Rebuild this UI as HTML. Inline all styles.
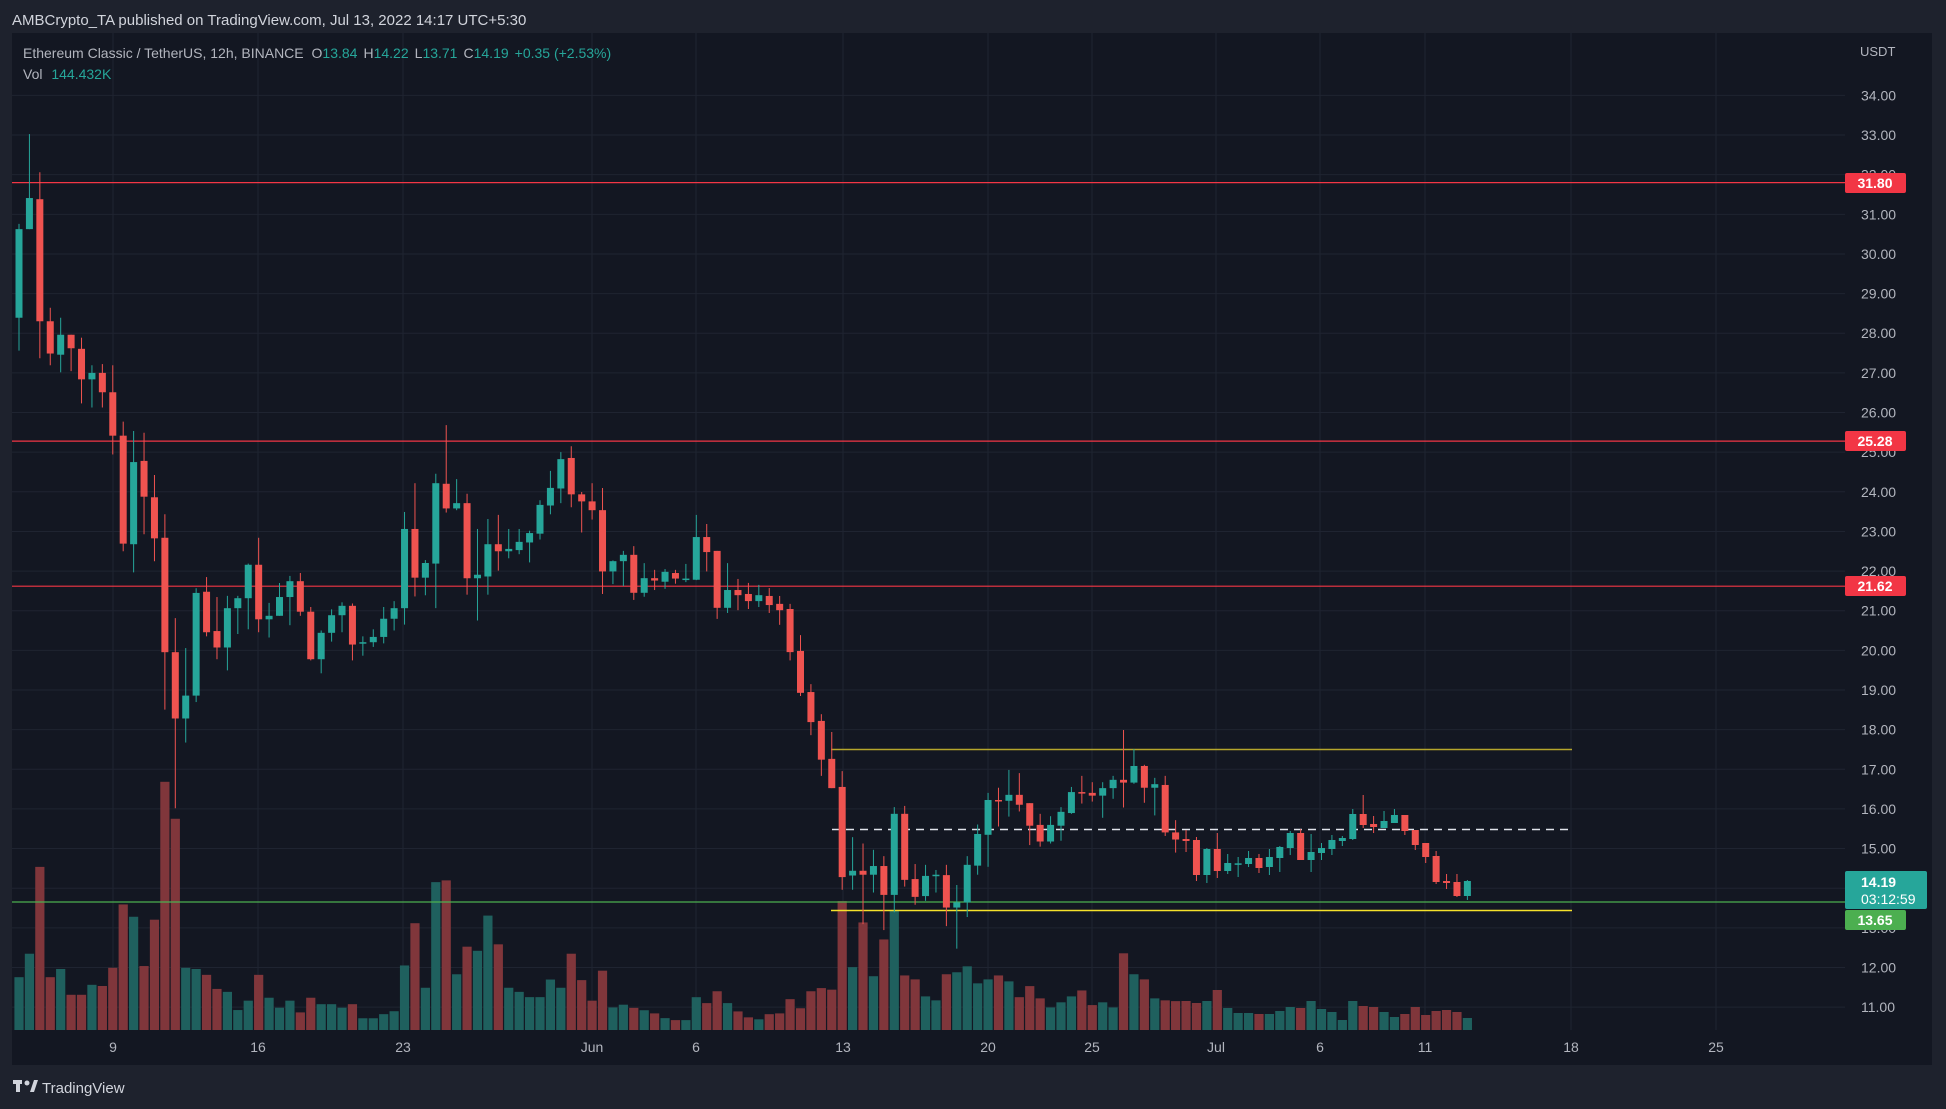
<!DOCTYPE html>
<html><head><meta charset="utf-8"><style>
html,body{margin:0;padding:0;background:#1e222d;width:1946px;height:1109px;overflow:hidden;font-family:"Liberation Sans",sans-serif}
svg{display:block}
</style></head><body>
<svg id="s" width="1946" height="1109" xmlns="http://www.w3.org/2000/svg">
<rect x="0" y="0" width="1946" height="1109" fill="#1e222d"/>
<rect x="12" y="33" width="1920" height="1032" fill="#131722"/>
<g id="grid"></g>
<g id="vol"></g>
<!-- horizontal levels -->
<line x1="12" x2="1845" y1="182.6" y2="182.6" stroke="#f23645" stroke-width="1.2"/>
<line x1="12" x2="1845" y1="441.1" y2="441.1" stroke="#f23645" stroke-width="1.2"/>
<line x1="12" x2="1845" y1="586.2" y2="586.2" stroke="#f23645" stroke-width="1.2"/>
<line x1="12" x2="1845" y1="902" y2="902" stroke="#4caf50" stroke-width="1.2"/>
<line x1="831" x2="1572" y1="749.5" y2="749.5" stroke="#b5a62c" stroke-width="1.6"/>
<line x1="831" x2="1572" y1="910.5" y2="910.5" stroke="#f5e12b" stroke-width="1.6"/>
<line x1="832" x2="1568" y1="829.5" y2="829.5" stroke="#e0e3eb" stroke-width="1.6" stroke-dasharray="8,6"/>
<g id="candles"></g>
<g id="axis" font-size="14" fill="#b2b5be"></g>
<text x="12" y="25" font-size="15" fill="#d1d4dc">AMBCrypto_TA published on TradingView.com, Jul 13, 2022 14:17 UTC+5:30</text>
<text x="23" y="58" font-size="14" fill="#b2b5be">Ethereum Classic / TetherUS, 12h, BINANCE <tspan dx="4">O</tspan><tspan fill="#26a69a">13.84</tspan><tspan dx="6">H</tspan><tspan fill="#26a69a">14.22</tspan><tspan dx="6">L</tspan><tspan fill="#26a69a">13.71</tspan><tspan dx="6">C</tspan><tspan fill="#26a69a">14.19</tspan><tspan dx="6" fill="#26a69a">+0.35 (+2.53%)</tspan></text>
<text x="23" y="79" font-size="14" fill="#b2b5be">Vol <tspan dx="5" fill="#26a69a">144.432K</tspan></text>
<text x="1860" y="56" font-size="13" fill="#b2b5be">USDT</text>
<!-- labels -->
<rect x="1845" y="173" width="61" height="20" rx="2" fill="#f23645"/>
<text x="1875" y="188" font-size="14" font-weight="bold" fill="#fff" text-anchor="middle">31.80</text>
<rect x="1845" y="431" width="61" height="20" rx="2" fill="#f23645"/>
<text x="1875" y="446" font-size="14" font-weight="bold" fill="#fff" text-anchor="middle">25.28</text>
<rect x="1845" y="576" width="61" height="20" rx="2" fill="#f23645"/>
<text x="1875" y="591" font-size="14" font-weight="bold" fill="#fff" text-anchor="middle">21.62</text>
<rect x="1845" y="871" width="82" height="38" rx="2" fill="#26a69a"/>
<text x="1861" y="887" font-size="14" font-weight="bold" fill="#fff">14.19</text>
<text x="1861" y="904" font-size="14" fill="#fff">03:12:59</text>
<rect x="1845" y="910" width="61" height="20" rx="2" fill="#4caf50"/>
<text x="1875" y="925" font-size="14" font-weight="bold" fill="#fff" text-anchor="middle">13.65</text>
<!-- logo -->
<g transform="translate(13,1080)" fill="#d1d4dc"><rect x="0" y="0" width="9" height="4"/><rect x="3" y="0" width="4" height="12"/><circle cx="14" cy="3" r="2.5"/><path d="M17 12 L21 0 L25 0 L21 12 Z"/></g>
<text x="42" y="1093" font-size="15" fill="#d1d4dc">TradingView</text>
</svg>
<script>
var NS="http://www.w3.org/2000/svg";
function el(p,t,a,txt){var e=document.createElementNS(NS,t);for(var k in a)e.setAttribute(k,a[k]);if(txt!==undefined)e.textContent=txt;document.getElementById(p).appendChild(e);return e;}
function py(p){return 95.4+(34-p)*39.64;}
// grid
for(var p=11;p<=34;p++){var y=py(p);el("grid","line",{x1:12,x2:1845,y1:y,y2:y,stroke:"#1f2431","stroke-width":1});
 el("axis","text",{x:1861,y:y+5},p.toFixed(2));}
var dates=[["9",113],["16",258],["23",403],["Jun",592],["6",696],["13",843],["20",988],["25",1092],["Jul",1216],["6",1320],["11",1425],["18",1571],["25",1716]];
dates.forEach(function(d){el("grid","line",{x1:d[1],x2:d[1],y1:33,y2:1030,stroke:"#1f2431","stroke-width":1});
 el("axis","text",{x:d[1],y:1052,"text-anchor":"middle"},d[0]);});
var z3=[[337,186,177,393],[186,133,24,186],[135,343,89,406],[343,398,320,418],[400,366,337,430],[366,389,366,428],[390,442,371,483],[442,431,418,490],[431,464,416,490],[464,538,418,570],[538,722,514,735],[723,583,530,771],[581,642,533,706],[643,713,605,752],[712,907,672,1005],[907,1020,849,1173],[1020,981,900,1061],[981,806,798,992],[804,873,779,880],[871,899,813,919],[899,832,811,938],[832,815,811,876],[815,758,756,868],[758,851,712,873],[851,845,823,882],[845,813,789,845],[813,786,777,861],[786,838,772,845],[838,919,830,921],[919,874,870,943],[874,844,834,889],[844,828,822,873],[828,894,824,921],[892,890,880,913],[890,881,868,898],[881,850,830,892],[850,832,820,870],[832,697,668,860],[697,780,619,812],[780,755,750,810],[756,619,603,832],[620,662,520,669],[662,653,612,665],[653,781,637,809],[781,775,697,853],[778,723,680,809],[723,735,673,768],[735,731,697,747],[733,719,697,740],[720,704,700,754],[705,656,648,715],[657,627,598,672],[628,578,566,653],[576,638,556,660],[638,650,634,703],[650,665,619,681]];
var z4=[[228,383,172,440],[383,357,355,415],[357,341,331,420],[341,437,319,455],[437,400,362,447],[400,406,379,430],[409,384,377,427],[387,401,379,414],[403,401,364,410],[404,296,240,405],[296,334,263,383],[331,475,331,503],[475,430,362,488],[430,443,402,481],[440,458,412,478],[458,443,417,473],[445,468,425,488],[465,481,445,518],[478,587,465,608],[584,690,544,698],[688,764,668,797],[761,859,744,900],[857,931,789,931],[928,1156,888,1188],[1152,1140,1055,1188],[1140,1150,1071,1275],[1150,1128,1087,1195],[1128,1201,1103,1290],[1201,996,979,1245],[996,1163,976,1180],[1161,1206,1123,1226],[1204,1153,1125,1216],[1153,1150,1138,1195],[1151,1233,1125,1280],[1233,1220,1176,1337],[1220,1125,1103,1257],[1127,1047,1023,1150],[1049,961,943,1130],[961,963,930,1028],[963,948,885,1003],[948,973,893,990],[969,1026,969,1075],[1024,1066,996,1079],[1066,1024,1002,1071],[1026,991,979,1064],[994,941,928,996],[941,944,900,970],[943,950,916,965],[950,931,916,1006],[931,910,900,958],[910,917,784,980],[917,875,832,920],[875,930,872,968],[930,921,905,1000],[923,1043,900,1052],[1043,1061,1012,1094]];
var z5=[[477,483,450,516],[480,585,471,603],[585,507,504,609],[507,573,459,594],[573,549,522,582],[551,550,531,591],[552,534,513,561],[534,564,522,579],[561,531,507,585],[534,501,498,576],[504,459,453,525],[459,540,447,540],[540,516,462,576],[519,504,489,540],[507,480,465,525],[483,474,468,498],[477,402,387,480],[402,435,345,444],[432,441,408,459],[444,423,393,444],[429,405,387,429],[405,453,405,465],[450,495,450,510],[489,531,489,549],[528,606,513,612],[603,609,582,627],[606,648,582,651],[648,603,600,660]];
var C=[];
z3.forEach(function(c){C.push(c.map(function(v){return 120+v/1.7043;}));});
z4.forEach(function(c){C.push(c.map(function(v){return 420+v/2.529;}));});
z5.forEach(function(c){C.push(c.map(function(v){return 680+v/3;}));});
var v3=[1460,1420,1272,1460,1446,1490,1490,1473,1475,1444,1336,1357,1441,1362,1127,1190,1444,1446,1456,1480,1485,1516,1500,1456,1495,1512,1500,1520,1495,1506,1506,1512,1506,1530,1530,1523,1518,1440,1368,1478,1298,1295,1455,1408,1415,1355,1404,1478,1485,1494,1494,1464,1478,1420,1465,1500];
var v4=[1392,1485,1478,1486,1492,1500,1512,1517,1517,1459,1474,1444,1474,1495,1510,1515,1502,1500,1464,1487,1444,1436,1440,1216,1383,1270,1406,1313,1240,1404,1414,1457,1467,1401,1396,1381,1424,1414,1404,1419,1459,1431,1462,1485,1472,1457,1442,1479,1472,1485,1348,1401,1414,1462,1467,1469];
var v5=[963,969,963,930,984,999,999,1002,1002,993,981,984,963,987,996,1020,963,978,981,996,1011,1002,981,1005,993,990,996,1014];
var V=[];
v3.forEach(function(t){V.push((1550-t)/1.7043);});
v4.forEach(function(t){V.push((1542-t)/2.529);});
v5.forEach(function(t){V.push((1050-t)/3);});
var bottom=1030;
for(var i=0;i<C.length;i++){
 var c=C[i],x=19+i*10.42,up=c[1]<=c[0];
 var col=up?"#26a69a":"#ef5350";
 var h=V[i]||0;
 el("vol","rect",{x:x-4.6,y:bottom-h,width:9.2,height:h,fill:up?"#1f605e":"#80363b"});
 el("candles","line",{x1:x,x2:x,y1:c[2],y2:c[3],stroke:col,"stroke-width":1});
 var t=Math.min(c[0],c[1]),b=Math.max(c[0],c[1]);if(b-t<1.5)b=t+1.5;
 el("candles","rect",{x:x-3.5,y:t,width:7,height:b-t,fill:col});
}
</script>
</body></html>
